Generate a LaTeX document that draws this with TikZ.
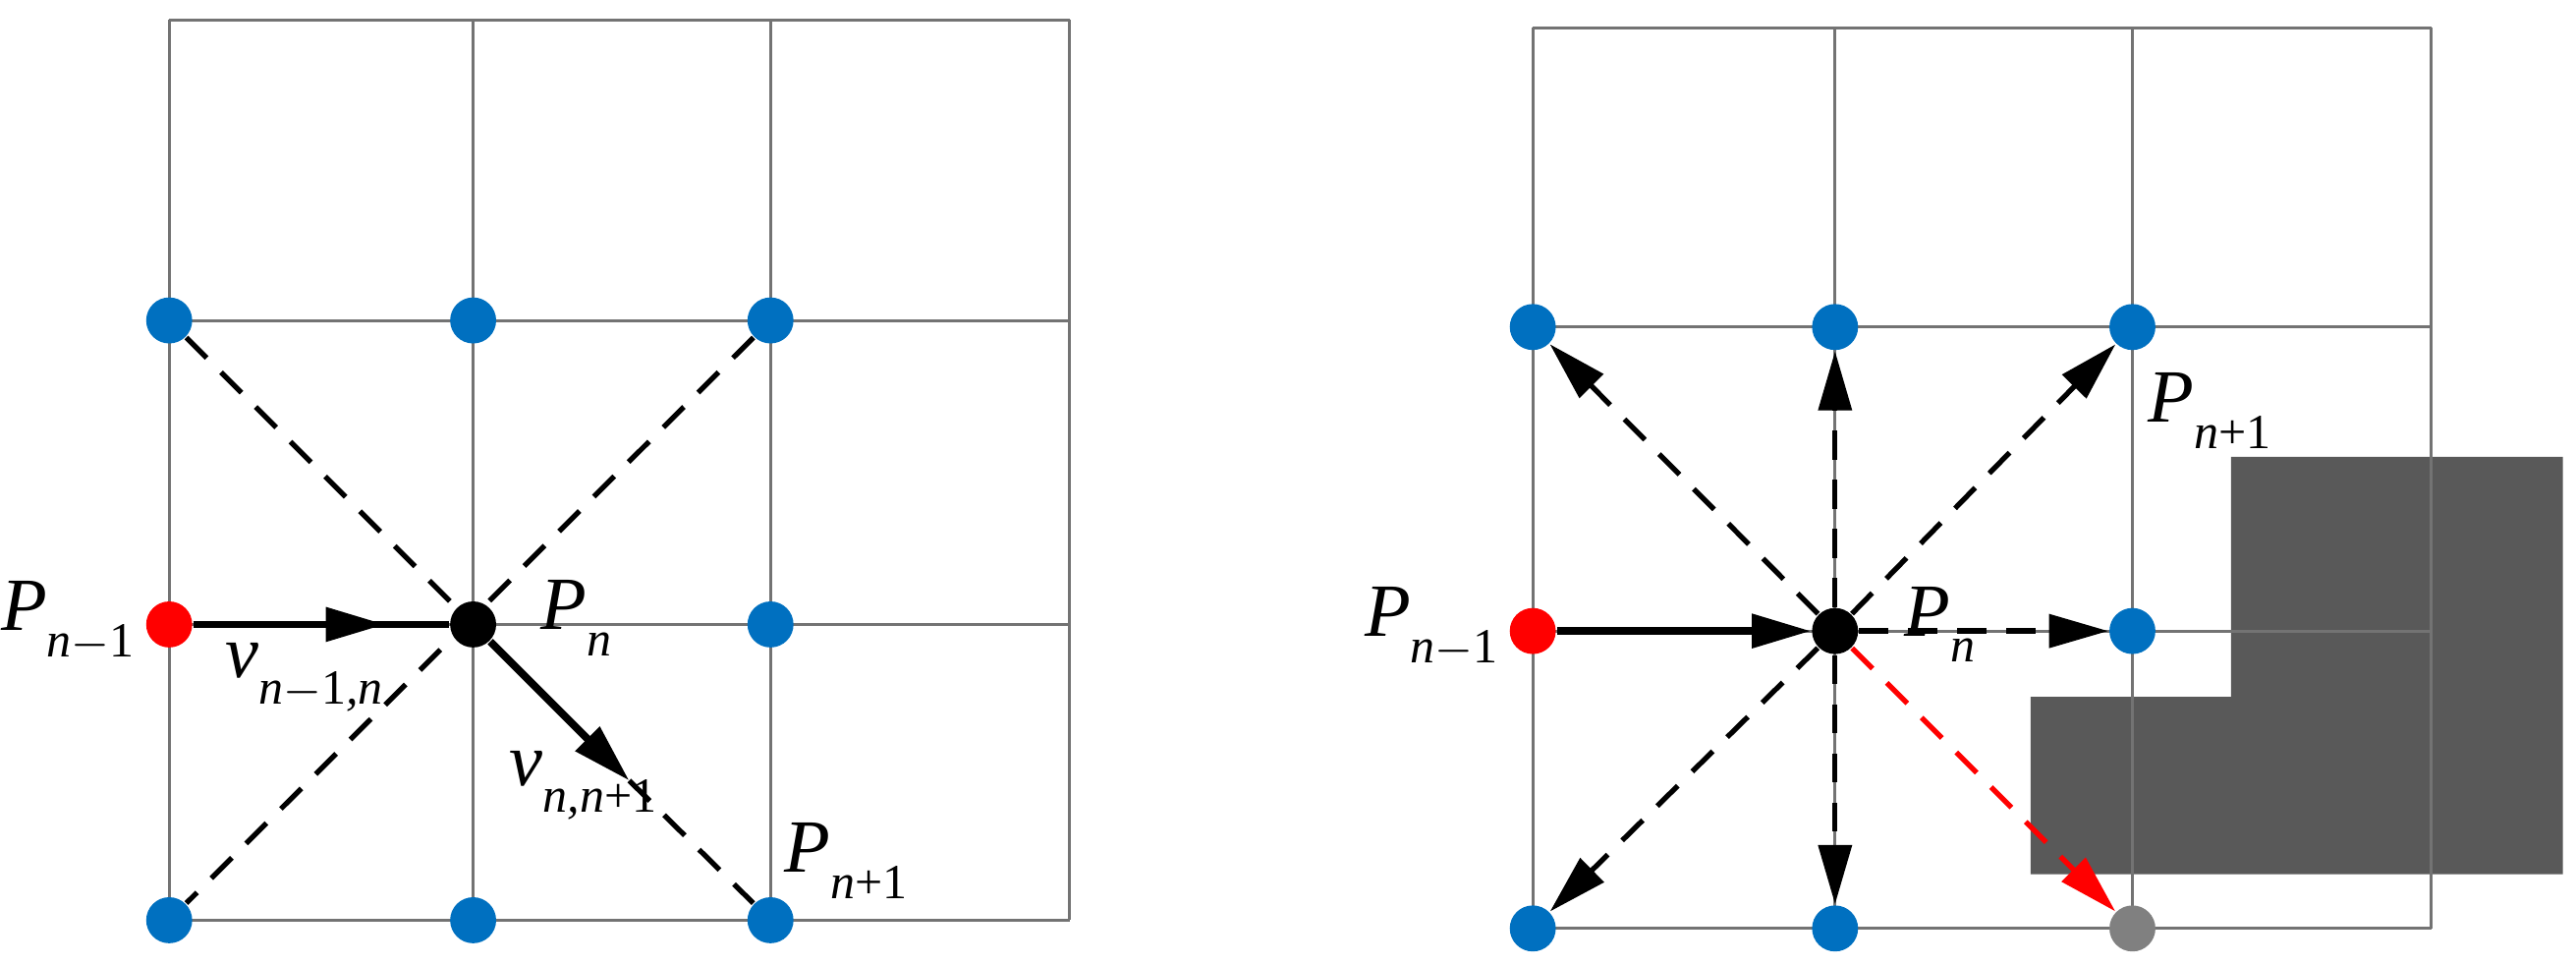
\documentclass[tikz,border=0pt]{standalone}
\usepackage{fontspec}
\setmainfont{Liberation Serif}
\usetikzlibrary{arrows.meta,decorations.markings}
\newcommand{\sbx}[1]{\raisebox{-0.35em}{\fontsize{8.5}{9}\selectfont #1}}
\begin{document}
\begin{tikzpicture}[x=0.01cm,y=-0.01cm,
  grid/.style={draw=gray!90!black,line width=0.5pt},
  dot/.style={circle,minimum size=0.28cm,inner sep=0pt,fill=#1},
  dsh/.style={line width=0.9pt,dash pattern=on 5pt off 3.5pt},
  tip/.style={-{Triangle[length=0.36cm,width=0.2cm]}},
  lab/.style={font=\fontsize{13}{15}\selectfont\itshape,inner sep=1pt},
  midarrow/.style={postaction={decorate},decoration={markings,mark=at position 0.75 with {\arrow{Triangle[length=0.36cm,width=0.2cm]}}}}]
\useasboundingbox (0,0) rectangle (1568,587);
\definecolor{blu}{RGB}{0,112,192}
% right obstacle
\fill[black!65] (1358,278) -- (1560,278) -- (1560,532) -- (1236,532) -- (1236,424) -- (1358,424) -- cycle;
% grids
\foreach \x in {103,288,469,651} \draw[grid] (\x,12) -- (\x,560);
\foreach \y in {12,195,380,560} \draw[grid] (103,\y) -- (651,\y);
\foreach \x in {933,1117,1298,1480} \draw[grid] (\x,17) -- (\x,565);
\foreach \y in {17,199,384,565} \draw[grid] (933,\y) -- (1480,\y);
% left nodes
\node[dot=blu] (a1) at (103,195) {};
\node[dot=blu] (a2) at (288,195) {};
\node[dot=blu] (a3) at (469,195) {};
\node[dot=red] (a4) at (103,380) {};
\node[dot=black] (a5) at (288,380) {};
\node[dot=blu] (a6) at (469,380) {};
\node[dot=blu] (a7) at (103,560) {};
\node[dot=blu] (a8) at (288,560) {};
\node[dot=blu] (a9) at (469,560) {};
\coordinate (m) at (383,475);
\draw[dsh] (a1) -- (a5);
\draw[dsh] (a3) -- (a7);
\draw[dsh] (m) -- (a9);
\draw[line width=1.3pt,midarrow] (a4) -- (a5);
\draw[line width=1.3pt,tip] (a5) -- (m);
\node[lab,anchor=east] at (86,378) {P\sbx{n\upshape$-$1}};
\node[lab,anchor=west] at (325,376) {P\sbx{n}};
\node[lab] at (185,412) {v\sbx{n\upshape$-$1\itshape,n}};
\node[lab] at (355,478) {v\sbx{n,n\upshape+1}};
\node[lab] at (515,524) {P\sbx{n\upshape+1}};
% right nodes
\node[dot=blu] (b1) at (933,199) {};
\node[dot=blu] (b2) at (1117,199) {};
\node[dot=blu] (b3) at (1298,199) {};
\node[dot=red] (b4) at (933,384) {};
\node[dot=black] (b5) at (1117,384) {};
\node[dot=blu] (b6) at (1298,384) {};
\node[dot=blu] (b7) at (933,565) {};
\node[dot=blu] (b8) at (1117,565) {};
\node[dot=gray] (b9) at (1298,565) {};
\draw[line width=1.3pt,tip] (b4) -- (b5);
\foreach \t in {b1,b2,b3,b6,b7,b8} \draw[dsh,tip] (b5) -- (\t);
\draw[dsh,tip,red] (b5) -- (b9);
\node[lab,anchor=east] at (916,382) {P\sbx{n\upshape$-$1}};
\node[lab,anchor=west] at (1155,380) {P\sbx{n}};
\node[lab] at (1345,250) {P\sbx{n\upshape+1}};
\end{tikzpicture}
\end{document}
